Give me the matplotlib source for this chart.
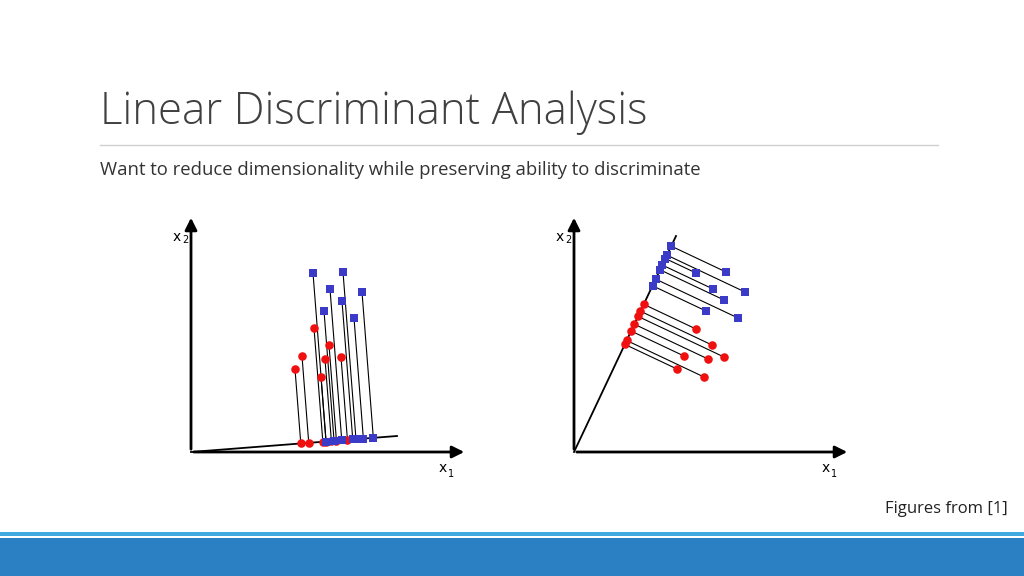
import numpy as np
import matplotlib
matplotlib.use("Agg")
import matplotlib.pyplot as plt

# point positions in slide pixel space (x right, y down)
LEFT_ORIGIN = (191, 452)
LEFT_DIR_END = (397, 436)
LEFT_BLUE_X = [313, 343, 330, 362, 342, 324, 354]
LEFT_BLUE_Y = [273, 272, 289, 292, 301, 311, 318]
LEFT_RED_X = [295, 302, 314, 329, 325, 321, 341]
LEFT_RED_Y = [369, 356, 328, 345, 359, 377, 357]

RIGHT_ORIGIN = (574, 452)
RIGHT_DIR_END = (676, 236)
RIGHT_BLUE_X = [726, 696, 745, 713, 724, 706, 738]
RIGHT_BLUE_Y = [272, 273, 292, 289, 300, 311, 318]
RIGHT_RED_X = [696, 712, 684, 708, 724, 677, 704]
RIGHT_RED_Y = [329, 345, 356, 359, 357, 369, 377]

BLUE = "#3b3bc8"
RED = "#f01010"

fig = plt.figure(figsize=(10.24, 5.76), dpi=100)
ax = fig.add_axes([0, 0, 1, 1])
ax.set_xlim(0, 1024)
ax.set_ylim(576, 0)
ax.axis("off")


def project(o, end, xs, ys):
    o = np.array(o, float)
    d = np.array(end, float) - o
    d /= np.linalg.norm(d)
    pts = np.column_stack([xs, ys]).astype(float) - o
    t = pts @ d
    return o + np.outer(t, d)


def panel(o, end, bx, by, rx, ry):
    ox, oy = o
    # axes with arrows
    ax.annotate("", xy=(ox, 215), xytext=(ox, oy),
                arrowprops=dict(arrowstyle="-|>", color="black", lw=2, mutation_scale=18))
    ax.annotate("", xy=(ox + 276, oy), xytext=(ox, oy),
                arrowprops=dict(arrowstyle="-|>", color="black", lw=2, mutation_scale=18))
    ax.text(ox - 18, 237, "x", fontsize=10, ha="left", va="center")
    ax.text(ox - 9, 240, "2", fontsize=7, ha="left", va="center")
    ax.text(ox + 248, 468, "x", fontsize=10, ha="left", va="center")
    ax.text(ox + 257, 474, "1", fontsize=7, ha="left", va="center")
    ax.plot([ox, end[0]], [oy, end[1]], color="black", lw=1.3)
    for xs, ys, c, m in ((rx, ry, RED, "o"), (bx, by, BLUE, "s")):
        pr = project(o, end, xs, ys)
        for x, y, (px, py) in zip(xs, ys, pr):
            ax.plot([x, px], [y, py], color="black", lw=0.8, zorder=2)
        ax.scatter(xs, ys, c=c, marker=m, s=38, zorder=3, linewidths=0)
        ax.scatter(pr[:, 0], pr[:, 1], c=c, marker=m, s=38, zorder=3, linewidths=0)


panel(LEFT_ORIGIN, LEFT_DIR_END, LEFT_BLUE_X, LEFT_BLUE_Y, LEFT_RED_X, LEFT_RED_Y)
panel(RIGHT_ORIGIN, RIGHT_DIR_END, RIGHT_BLUE_X, RIGHT_BLUE_Y, RIGHT_RED_X, RIGHT_RED_Y)

ax.text(100, 113, "Linear Discriminant Analysis", fontsize=31.5, color="#404040",
        family="Open Sans", weight="light", ha="left", va="center")
ax.plot([100, 938], [145, 145], color="#d0d0d0", lw=1)
ax.text(100, 170, "Want to reduce dimensionality while preserving ability to discriminate",
        fontsize=13.3, color="#333333", family="Open Sans", ha="left", va="center")
ax.text(1008, 509, "Figures from [1]", fontsize=12, color="#222222",
        family="Open Sans", ha="right", va="center")

ax.add_patch(plt.Rectangle((0, 532), 1024, 4, color="#3fa9e0", lw=0))
ax.add_patch(plt.Rectangle((0, 538), 1024, 38, color="#2b7fc3", lw=0))

fig.savefig("out.png", dpi=100)
